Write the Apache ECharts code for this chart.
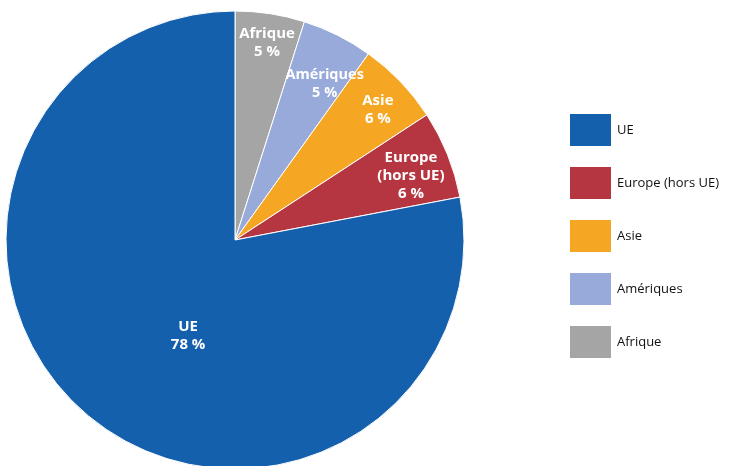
<!DOCTYPE html>
<html><head><meta charset="utf-8">
<script src="https://cdn.jsdelivr.net/npm/echarts@6/dist/echarts.min.js"></script>
<style>html,body{margin:0;padding:0;background:#fff}#c{width:733px;height:466px}</style>
</head><body><div id="c"></div>
<script>
// Data (clockwise from 12 o'clock)
const categories = ["Afrique", "Amériques", "Asie", "Europe (hors UE)", "UE"];
const shares = [4.9, 5.0, 5.9, 6.2, 78.0];
const legendOrder = ["UE", "Europe (hors UE)", "Asie", "Amériques", "Afrique"];

const colors = {"Afrique":"#A5A5A5","Amériques":"#97AADA","Asie":"#F5A623","Europe (hors UE)":"#B53641","UE":"#1560AD"};
const labelOffsets = {"Afrique":[14,-81],"Amériques":[37,-51],"Asie":[58,-49],"Europe (hors UE)":[67,-20],"UE":[28,5]};
const labelSizes = {"Afrique":15,"Amériques":14.5,"Asie":15,"Europe (hors UE)":15,"UE":15};

const data = categories.map((n,i)=>({
  name:n, value:shares[i],
  itemStyle:{color:colors[n]},
  label:{offset:labelOffsets[n], fontSize:labelSizes[n]}
}));

const FONT = '"Open Sans", "Noto Sans", sans-serif';
const chart = echarts.init(document.getElementById('c'));
chart.setOption({
  animation:false,
  textStyle:{fontFamily:FONT},
  legend:{
    data:legendOrder, orient:'vertical', left:563, top:107,
    icon:'rect', itemWidth:43, itemHeight:34, itemGap:17,
    textStyle:{fontSize:13, color:'#111', fontFamily:FONT},
    selectedMode:false
  },
  series:[{
    type:'pie', center:[235,240], radius:229, startAngle:90, clockwise:true,
    avoidLabelOverlap:false,
    itemStyle:{borderColor:'#fff', borderWidth:1},
    labelLayout:{hideOverlap:false},
    label:{
      show:true, position:'inside', color:'#fff', fontWeight:'bold', fontSize:15, lineHeight:18,
      fontFamily:FONT,
      formatter:p=>p.name.replace(' (','\n(')+'\n'+Math.round(p.value)+' %'
    },
    labelLine:{show:false},
    emphasis:{disabled:true},
    data:data
  }]
});
</script></body></html>
